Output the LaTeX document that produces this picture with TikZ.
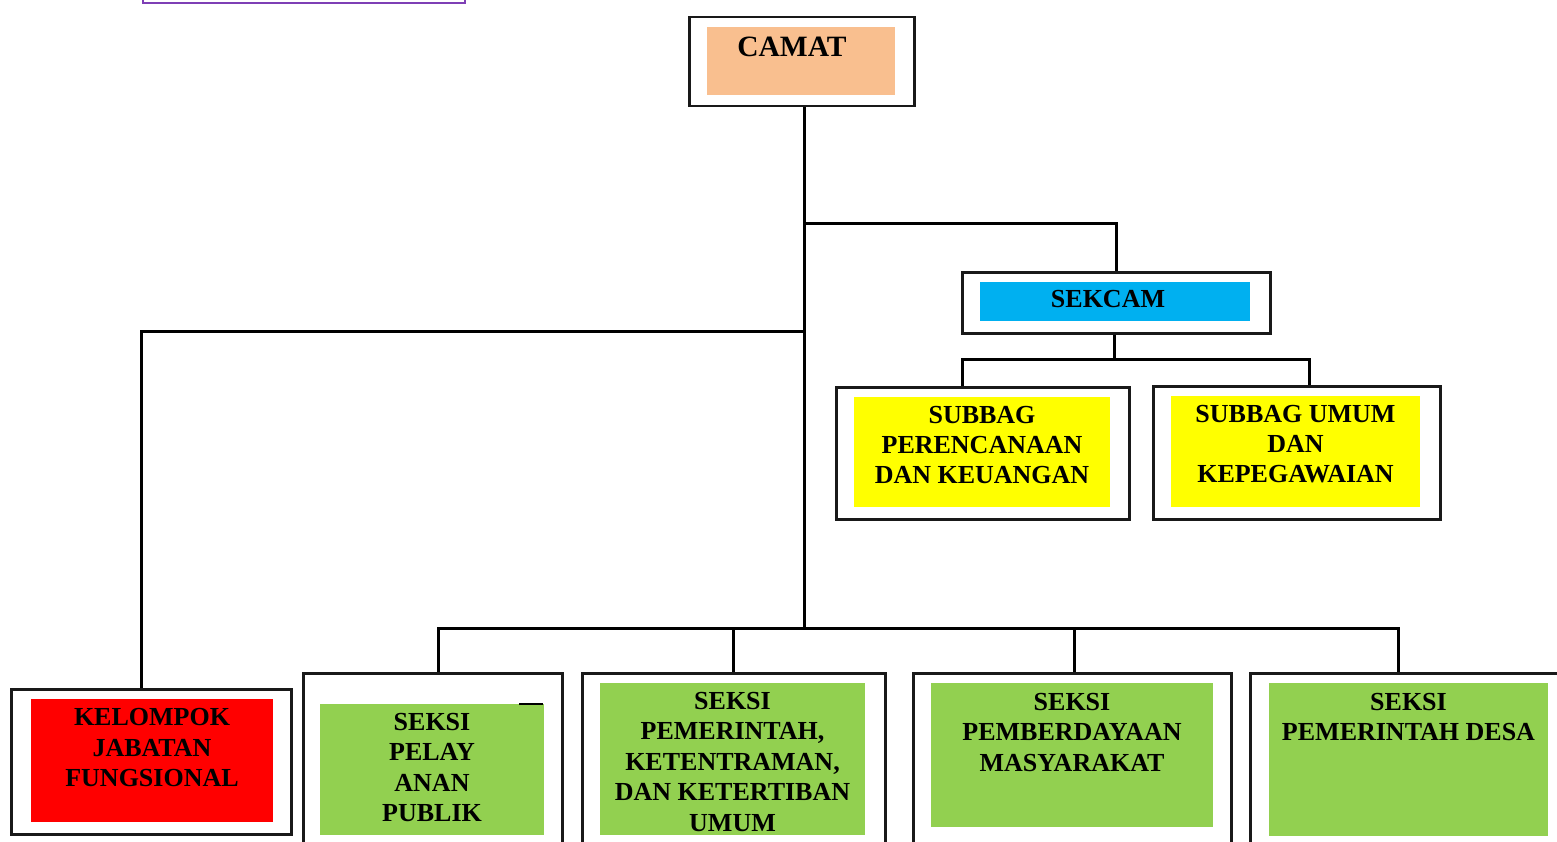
\documentclass[tikz,border=0pt]{standalone}
\usepackage{fontspec}
\setmainfont{Liberation Serif}
\definecolor{peach}{HTML}{F9BF8F}
\definecolor{skyb}{HTML}{00B0F0}
\definecolor{yel}{HTML}{FFFF00}
\definecolor{redf}{HTML}{FF0000}
\definecolor{grn}{HTML}{92D050}
\definecolor{purp}{HTML}{7E3FB5}
\newcommand\boxtext[4]{\parbox[t][#2][t]{#1}{\centering\rule{0pt}{#3}#4}}
\begin{document}
\begin{tikzpicture}[x=1pt,y=-1pt,
  outerbox/.style={draw=black!90, line width=2.5pt, fill=white, inner sep=0pt, anchor=north west},
  fillbox/.style={inner sep=0pt, outer sep=0pt, anchor=north west, font=\bfseries\fontsize{26}{30.5}\selectfont},
  conn/.style={line width=3pt, line join=miter}]
\useasboundingbox (0,0) rectangle (1557,842);
\clip (0,0) rectangle (1557,842);
\fill[white] (0,0) rectangle (1557,842);

% cut-off purple box at top
\node[draw=purp, line width=2pt, inner sep=0pt, anchor=north west, minimum width=322pt, minimum height=22pt] (topbox) at (142,-20) {};

% outer frames
\node[outerbox, minimum width=225pt, minimum height=89pt] (camat) at (688,16) {};
\node[outerbox, minimum width=308pt, minimum height=61pt] (sekcam) at (961,271) {};
\node[outerbox, minimum width=293pt, minimum height=132pt] (sp) at (835,386) {};
\node[outerbox, minimum width=287pt, minimum height=133pt] (su) at (1152,385) {};
\node[outerbox, minimum width=280pt, minimum height=145pt] (kjf) at (10,688) {};
\node[outerbox, minimum width=259pt, minimum height=220pt] (s1) at (302,672) {};
\node[outerbox, minimum width=303pt, minimum height=220pt] (s2) at (581,672) {};
\node[outerbox, minimum width=318pt, minimum height=220pt] (s3) at (912,672) {};
\node[outerbox, minimum width=360pt, minimum height=220pt] (s4) at (1249,672) {};

% coloured inner boxes with text
\node[fillbox, fill=peach, font=\bfseries\fontsize{29.5}{34}\selectfont] (camatin) at (707,27)
  {\boxtext{188pt}{68pt}{29.2pt}{\hspace*{-18pt}CAMAT}};
\node[fillbox, fill=skyb] (sekcamin) at (980,282)
  {\boxtext{270pt}{39pt}{25.3pt}{\hspace*{-14pt}SEKCAM}};
\node[fillbox, fill=yel, font=\bfseries\fontsize{26}{30}\selectfont] (spin) at (854,397)
  {\boxtext{256pt}{110pt}{26.5pt}{SUBBAG\\PERENCANAAN\\DAN KEUANGAN}};
\node[fillbox, fill=yel, font=\bfseries\fontsize{26}{30}\selectfont] (suin) at (1171,396)
  {\boxtext{249pt}{111pt}{26.3pt}{SUBBAG UMUM\\DAN\\KEPEGAWAIAN}};
\node[fillbox, fill=redf] (kjfin) at (31,699)
  {\boxtext{242pt}{123pt}{26.5pt}{KELOMPOK\\JABATAN\\FUNGSIONAL}};
\node[fillbox, fill=grn] (s1in) at (320,704)
  {\boxtext{224pt}{131pt}{26pt}{SEKSI\\PELAY\\ANAN\\PUBLIK}};
\node[fillbox, fill=grn] (s2in) at (600,683)
  {\boxtext{265pt}{152pt}{26.2pt}{SEKSI\\PEMERINTAH,\\KETENTRAMAN,\\DAN KETERTIBAN\\UMUM}};
\node[fillbox, fill=grn] (s3in) at (931,683)
  {\boxtext{282pt}{144pt}{27pt}{SEKSI\\PEMBERDAYAAN\\MASYARAKAT}};
\node[fillbox, fill=grn] (s4in) at (1269,683)
  {\boxtext{279pt}{153pt}{27pt}{SEKSI\\PEMERINTAH DESA}};

% small stray dash in the Pelayanan box
\draw[line width=2.7pt] (s1in.north east) ++(-25,0) -- ++(24,0);

% junction coordinates
\coordinate (jtop) at (804,224);
\coordinate (jleft) at (804,331);
\coordinate (bus) at (804,628);
\coordinate (kl) at (141,331);
\coordinate (sbus) at (1114,359);
\coordinate (sbl) at (962,359);
\coordinate (sbr) at (1309,359);
\coordinate (bl) at (438,628);
\coordinate (b2) at (733,628);
\coordinate (b3) at (1074,628);
\coordinate (br) at (1398,628);

% connectors
\draw[conn] (bus |- camat.south) -- (bus);
\draw[conn] (jtop) -| (sekcam.north);
\draw[conn] (jleft) -- (kl) -- (kl |- kjf.north);
\draw[conn] (sbus |- sekcam.south) -- (sbus);
\draw[conn] (sbl |- sp.north) -- (sbl) -- (sbr) -- (sbr |- su.north);
\draw[conn] (bl |- s1.north) -- (bl) -- (br) -- (br |- s4.north);
\draw[conn] (b2) -- (b2 |- s2.north);
\draw[conn] (b3) -- (b3 |- s3.north);
\end{tikzpicture}
\end{document}
